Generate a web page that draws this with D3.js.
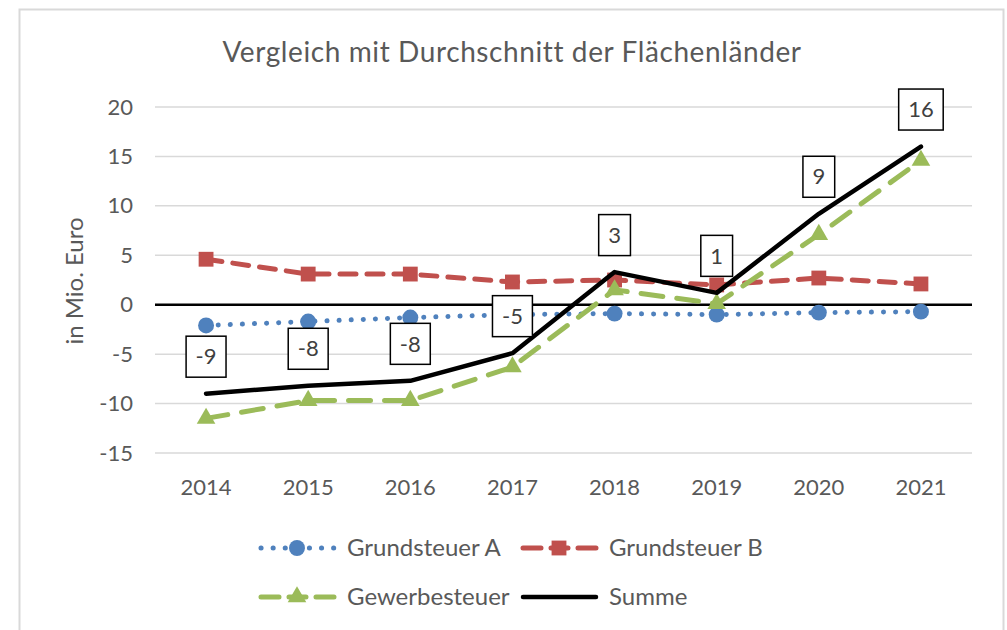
<!DOCTYPE html>
<html>
<head>
<meta charset="utf-8">
<script src="https://cdn.jsdelivr.net/npm/d3@7"></script>
<style>
  body { margin: 0; background: #fff; }
  text { font-family: Lato, "Open Sans", sans-serif; fill: #595959; }
</style>
</head>
<body>
<div id="chart"></div>
<script>
// data
var years = ['2014', '2015', '2016', '2017', '2018', '2019', '2020', '2021']
var grundA = [-2.1, -1.7, -1.3, -1.0, -0.9, -1.0, -0.8, -0.7]
var grundB = [4.6, 3.1, 3.1, 2.3, 2.5, 2.0, 2.7, 2.1]
var gewerbe = [-11.5, -9.7, -9.7, -6.3, 1.5, 0.1, 7.1, 14.6]
var summe = [-9.0, -8.2, -7.7, -4.9, 3.3, 1.2, 9.2, 16.0]
var summeLabels = ['-9', '-8', '-8', '-5', '3', '1', '9', '16']
var yTicks = [-15, -10, -5, 0, 5, 10, 15, 20]

var w = 1007
var h = 630
var margin = { left: 155, right: 35, top: 107, bottom: 177 }

var svg = d3.select('#chart')
  .append('svg')
  .attr('width', w)
  .attr('height', h)

// chart frame
svg.append('rect')
  .attr('x', 19.5)
  .attr('y', 9.5)
  .attr('width', 984)
  .attr('height', 640)
  .style('fill', 'none')
  .style('stroke', '#d9d9d9')
  .style('stroke-width', 2)

var x = d3.scaleBand()
  .domain(years)
  .range([margin.left, w - margin.right])

var y = d3.scaleLinear()
  .domain([-15, 20])
  .range([h - margin.bottom, margin.top])

var cx = d => x(d) + x.bandwidth() / 2

// gridlines
svg.append('g')
  .selectAll('line')
  .data(yTicks.filter(d => d !== 0))
  .enter()
  .append('line')
  .attr('x1', margin.left)
  .attr('x2', w - margin.right)
  .attr('y1', d => y(d))
  .attr('y2', d => y(d))
  .style('stroke', '#d9d9d9')
  .style('stroke-width', 1.5)

// y axis labels
var yAxis = svg.append('g')
  .attr('transform', 'translate(' + (margin.left - 22) + ',0)')
  .call(d3.axisLeft(y).tickValues(yTicks).tickSize(0).tickPadding(0).tickFormat(d => String(d)))
yAxis.select('.domain').remove()
yAxis.selectAll('text')
  .style('font-size', '22px')
  .style('font-family', 'Lato, sans-serif')
  .attr('fill', '#595959')

// x axis labels
var xAxis = svg.append('g')
  .attr('transform', 'translate(0,' + (h - margin.bottom + 22) + ')')
  .call(d3.axisBottom(x).tickSize(0).tickPadding(4))
xAxis.select('.domain').remove()
xAxis.selectAll('text')
  .style('font-size', '22px')
  .style('font-family', 'Lato, sans-serif')
  .attr('fill', '#595959')

// zero line
svg.append('line')
  .attr('x1', margin.left)
  .attr('x2', w - margin.right)
  .attr('y1', y(0))
  .attr('y2', y(0))
  .style('stroke', '#000')
  .style('stroke-width', 2.5)

// title
svg.append('text')
  .attr('x', 512)
  .attr('y', 62)
  .attr('text-anchor', 'middle')
  .style('font-size', '28px')
  .style('letter-spacing', '0.6px')
  .text('Vergleich mit Durchschnitt der Flächenländer')

// y axis title
svg.append('text')
  .attr('transform', 'translate(83,281) rotate(-90)')
  .attr('text-anchor', 'middle')
  .style('font-size', '24px')
  .text('in Mio. Euro')

var line = d3.line()
  .x((d, i) => cx(years[i]))
  .y(d => y(d))

var series = [
  { name: 'Grundsteuer A', values: grundA, color: '#4f81bd', dash: '0.1 12', width: 5, marker: 'circle' },
  { name: 'Grundsteuer B', values: grundB, color: '#c0504d', dash: '16 11', width: 5, marker: 'square' },
  { name: 'Gewerbesteuer', values: gewerbe, color: '#9bbb59', dash: '22 14', width: 5, marker: 'triangle' },
  { name: 'Summe', values: summe, color: '#000', dash: null, width: 4.5, marker: null }
]

var symbolFor = {
  circle: d3.symbol().type(d3.symbolCircle).size(200),
  square: d3.symbol().type(d3.symbolSquare).size(220),
  triangle: d3.symbol().type(d3.symbolTriangle).size(150)
}

series.forEach(s => {
  svg.append('path')
    .datum(s.values)
    .attr('d', line)
    .style('fill', 'none')
    .style('stroke', s.color)
    .style('stroke-width', s.width)
    .style('stroke-linecap', 'round')
    .style('stroke-linejoin', 'round')
    .style('stroke-dasharray', s.dash)
  if (s.marker) {
    svg.append('g')
      .selectAll('path')
      .data(s.values)
      .enter()
      .append('path')
      .attr('d', symbolFor[s.marker])
      .attr('transform', (d, i) => 'translate(' + cx(years[i]) + ',' + y(d) + ')')
      .style('fill', s.color)
  }
})

// data labels on Summe
var labels = svg.append('g')
  .selectAll('g')
  .data(summe)
  .enter()
  .append('g')
  .attr('transform', (d, i) => 'translate(' + cx(years[i]) + ',' + (y(d) - 37) + ')')

labels.append('text')
  .attr('text-anchor', 'middle')
  .attr('dy', '0.35em')
  .style('font-size', '22px')
  .style('fill', '#404040')
  .text((d, i) => summeLabels[i])

labels.each(function() {
  var g = d3.select(this)
  var bb = g.select('text').node().getBBox()
  g.insert('rect', 'text')
    .attr('x', -bb.width / 2 - 9.5)
    .attr('y', -20.5)
    .attr('width', bb.width + 19)
    .attr('height', 41)
    .style('fill', '#fff')
    .style('stroke', '#000')
    .style('stroke-width', 1.5)
})

// legend
var legendItems = [
  { s: series[0], x: 258, y: 548 },
  { s: series[1], x: 520, y: 548 },
  { s: series[2], x: 258, y: 597 },
  { s: series[3], x: 520, y: 597 }
]

var legend = svg.append('g')
  .selectAll('g')
  .data(legendItems)
  .enter()
  .append('g')
  .attr('transform', d => 'translate(' + d.x + ',' + d.y + ')')

legend.append('line')
  .attr('x1', 3)
  .attr('x2', 76)
  .style('stroke', d => d.s.color)
  .style('stroke-width', d => d.s.width)
  .style('stroke-linecap', 'round')
  .style('stroke-dasharray', d => d.s.marker === 'circle' ? '0.1 12' : (d.s.marker ? '18 10 17 10 18' : null))

legend.filter(d => d.s.marker)
  .append('path')
  .attr('transform', 'translate(39,0)')
  .attr('d', d => symbolFor[d.s.marker]())
  .style('fill', d => d.s.color)

legend.append('text')
  .attr('x', 89)
  .attr('dy', '0.35em')
  .style('font-size', '24px')
  .text(d => d.s.name)
</script>
</body>
</html>
